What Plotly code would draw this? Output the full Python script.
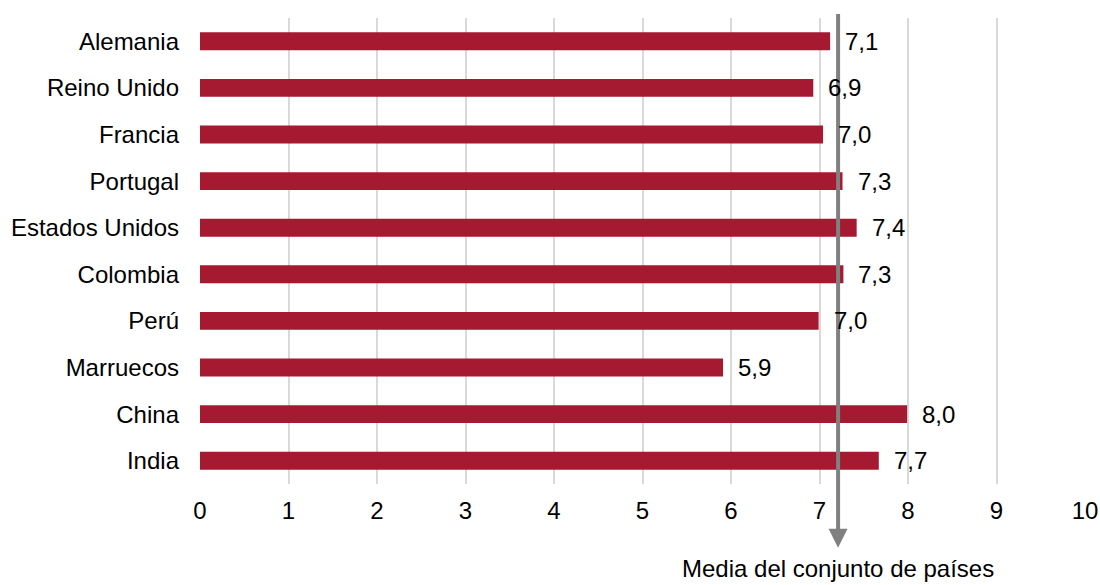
import plotly.graph_objects as go

paises = ["Alemania", "Reino Unido", "Francia", "Portugal", "Estados Unidos",
          "Colombia", "Perú", "Marruecos", "China", "India"]
valores = [7.12, 6.93, 7.04, 7.26, 7.42, 7.27, 6.99, 5.91, 7.99, 7.67]
media = 7.21
media_label = "Media del conjunto de países"
x_ticks = list(range(0, 11))

BAR = "#A51A30"
GRID = "#D9D9D9"
FONT = "Liberation Sans, Arial, sans-serif"
FS = 24

fig = go.Figure()
fig.add_trace(go.Bar(
    x=valores, y=paises, orientation="h",
    marker=dict(color=BAR, line=dict(width=0)),
    hoverinfo="x+y",
))

for p, v in zip(paises, valores):
    fig.add_annotation(
        x=v, y=p, xref="x", yref="y",
        text=f"{v:.1f}".replace(".", ","),
        showarrow=False, xanchor="left", yanchor="middle",
        xshift=13, font=dict(family=FONT, size=FS, color="#000000"),
    )

# mean line with arrow
fig.add_shape(type="line", xref="x", yref="paper",
              x0=media, x1=media, y0=1.0086, y1=-0.11,
              line=dict(color="#808080", width=4), layer="above")
fig.add_annotation(
    x=media, y=-0.137, xref="x", yref="paper",
    ax=0, ay=-20, axref="pixel", ayref="pixel",
    showarrow=True, arrowhead=2, arrowsize=0.95, arrowwidth=4,
    arrowcolor="#808080", text="", standoff=0,
)
fig.add_annotation(
    x=media, y=-0.181, xref="x", yref="paper",
    text=media_label, showarrow=False, xanchor="center", yanchor="middle",
    font=dict(family=FONT, size=FS, color="#000000"),
)

fig.update_layout(
    width=1100, height=585,
    margin=dict(l=200, r=15, t=18, b=101),
    paper_bgcolor="white", plot_bgcolor="white",
    bargap=0.615, showlegend=False,
    font=dict(family=FONT, size=FS, color="#000000"),
)
fig.update_xaxes(
    range=[0, 10], tickvals=x_ticks, ticktext=[str(t) for t in x_ticks],
    showgrid=True, gridcolor=GRID, gridwidth=2, automargin=False,
    zeroline=False, showline=False, ticks="", ticklabelstandoff=10,
    tickfont=dict(family=FONT, size=FS, color="#000000"),
)
fig.update_yaxes(
    autorange="reversed", showgrid=False, zeroline=False, automargin=False,
    showline=False, ticks="", ticklabelstandoff=20,
    tickfont=dict(family=FONT, size=FS, color="#000000"),
)

fig.write_html("out.html")
